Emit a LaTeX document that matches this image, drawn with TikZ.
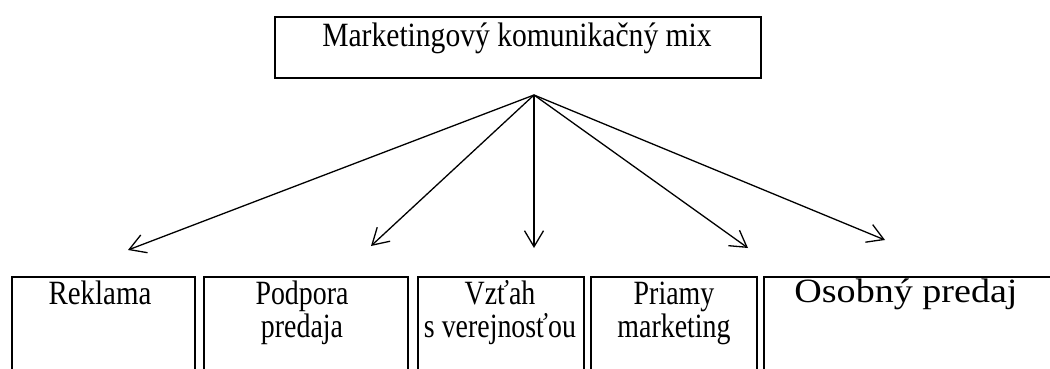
\documentclass[tikz,border=0pt]{standalone}
\usepackage{fontspec}
\usepackage{graphicx}
\setmainfont{Liberation Serif}
\usetikzlibrary{arrows.meta}
\newcommand\lbl[2][0.82]{\scalebox{#1}[1]{\begin{tabular}[t]{@{}c@{}}#2\end{tabular}}}
\begin{document}
\begin{tikzpicture}[x=1pt,y=-1pt,
  box/.style={draw,line width=2pt,inner sep=0pt,anchor=north west},
  txt/.style={inner sep=0pt,anchor=base,font=\fontsize{34}{33}\selectfont},
  arr/.style={line width=1.3pt,-{Straight Barb[length=16pt,width=19pt]}}]
\useasboundingbox (0,0) rectangle (1050,369);
\clip (0,0) rectangle (1050,369);
% top box
\node[box,minimum width=486pt,minimum height=61pt] (top) at (274,16) {};
\node[txt] (toptxt) at (517,47) {\lbl[0.87]{Marketingový komunikačný mix}};
% bottom boxes
\node[box,minimum width=183pt,minimum height=140pt] (b1) at (11,276) {};
\node[box,minimum width=204pt,minimum height=140pt] (b2) at (203,276) {};
\node[box,minimum width=166pt,minimum height=140pt] (b3) at (417,276) {};
\node[box,minimum width=166pt,minimum height=140pt] (b4) at (590,276) {};
\node[box,minimum width=300pt,minimum height=140pt] (b5) at (763,276) {};
\node[txt] (t1) at (100,304) {\lbl[0.85]{Reklama}};
\node[txt] (t2) at (302,304) {\lbl{Podpora\\predaja}};
\node[txt] (t3) at (500,304) {\lbl{Vzťah\\s verejnosťou}};
\node[txt] (t4) at (674,304) {\lbl{Priamy\\marketing}};
\node[txt] (t5) at (906,302) {\lbl[1.12]{Osobný predaj}};
% arrows
\coordinate (o) at (534,95);
\coordinate (e1) at (128,250);
\coordinate (e2) at (371,246);
\coordinate (e3) at (534,248);
\coordinate (e4) at (748,248);
\coordinate (e5) at (885,240);
\foreach \e in {e1,e2,e3,e4,e5} \draw[arr] (o) -- (\e);
\end{tikzpicture}
\end{document}
